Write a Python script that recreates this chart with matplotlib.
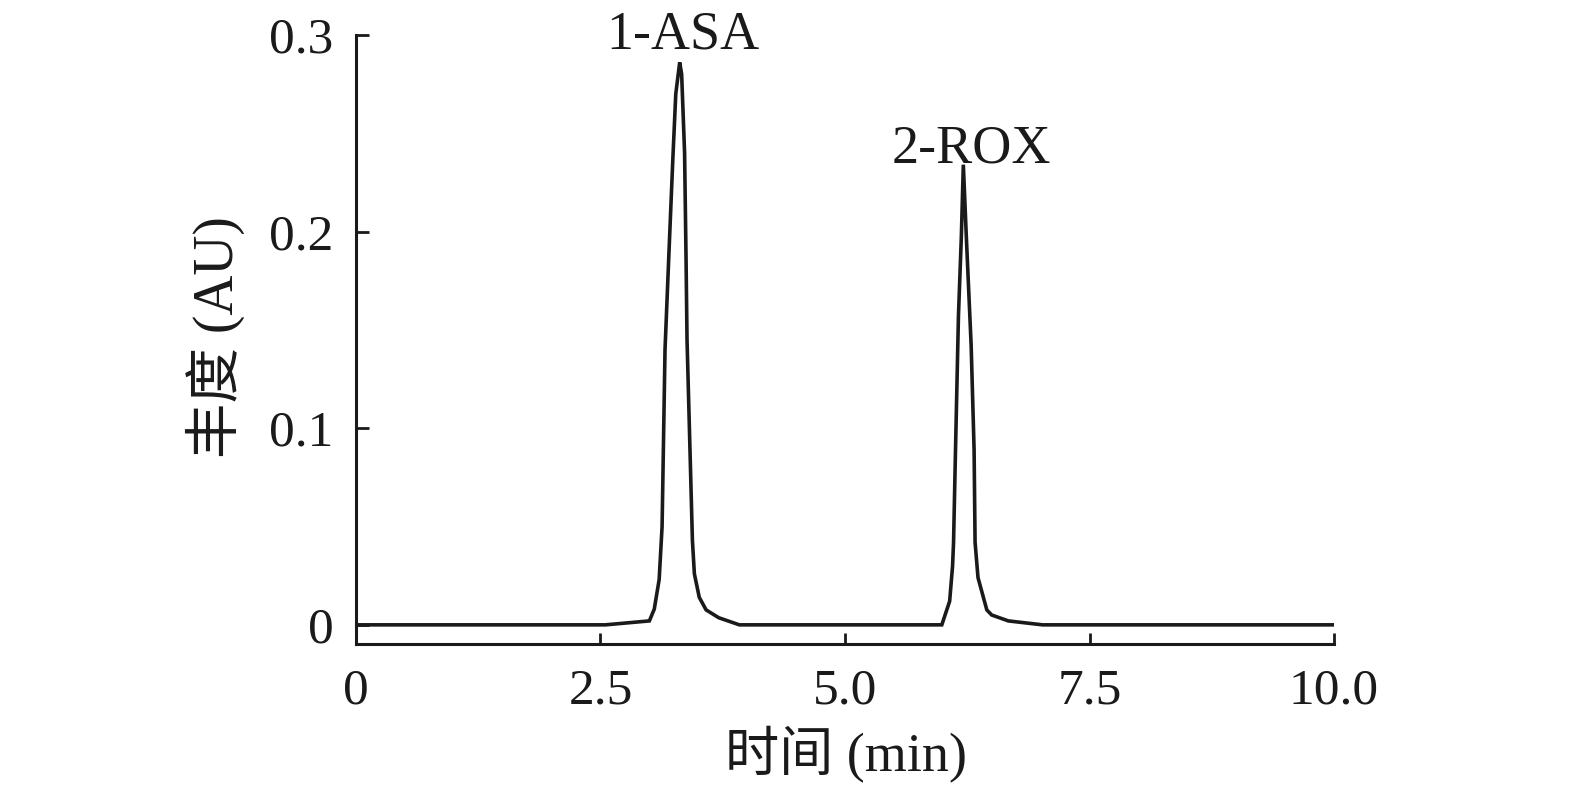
import matplotlib
matplotlib.use("Agg")
import matplotlib.pyplot as plt

# chromatogram trace (time in min, absorbance in AU)
time_min = [0.0, 2.55, 3.00, 3.05, 3.10, 3.13, 3.16, 3.20, 3.24, 3.27, 3.31,
            3.33, 3.36, 3.375, 3.385, 3.44, 3.46, 3.51, 3.58, 3.71, 3.92,
            5.99, 6.07, 6.10, 6.11, 6.13, 6.16, 6.19, 6.21, 6.24, 6.29, 6.32,
            6.33, 6.36, 6.45, 6.50, 6.67, 7.02, 10.0]
signal_au = [0.0, 0.0, 0.002, 0.008, 0.023, 0.05, 0.14, 0.189, 0.237, 0.27, 0.286,
             0.28, 0.24, 0.186, 0.145, 0.043, 0.026, 0.014, 0.0076, 0.0036, 0.0,
             0.0, 0.012, 0.03, 0.042, 0.089, 0.157, 0.198, 0.234, 0.198, 0.142, 0.089,
             0.042, 0.024, 0.0076, 0.005, 0.002, 0.0, 0.0]

peak_names = ["1-ASA", "2-ROX"]
peak_times = [3.34, 6.29]
peak_label_y = [0.293, 0.235]

x_ticks = [0, 2.5, 5.0, 7.5, 10.0]
x_tick_labels = ["0", "2.5", "5.0", "7.5", "10.0"]
y_ticks = [0, 0.1, 0.2, 0.3]
y_tick_labels = ["0", "0.1", "0.2", "0.3"]

FAM = ["Liberation Serif", "Noto Sans CJK SC"]
plt.rcParams["font.family"] = FAM

fig = plt.figure(figsize=(15.75, 7.93), dpi=100)
ax = fig.add_axes([0.226, 0.188, 0.621, 0.768])

ax.plot(time_min, signal_au, color="#1a1a1a", lw=2.6, solid_joinstyle="miter")

ax.set_xlim(0, 10.0)
ax.set_ylim(-0.0097, 0.3)
ax.set_xticks(x_ticks)
ax.set_xticklabels(x_tick_labels)
ax.set_yticks(y_ticks)
ax.set_yticklabels(y_tick_labels)

for s in ["top", "right"]:
    ax.spines[s].set_visible(False)
for s in ["left", "bottom"]:
    ax.spines[s].set_linewidth(2.2)
    ax.spines[s].set_color("#1a1a1a")
ax.spines["left"].set_bounds(-0.0097, 0.3)

ax.tick_params(axis="both", direction="in", width=2.0, color="#1a1a1a",
               labelsize=37, labelcolor="#1a1a1a")
ax.tick_params(axis="x", length=8, pad=17)
ax.tick_params(axis="y", length=9, pad=16)

for name, t, yy in zip(peak_names, peak_times, peak_label_y):
    ax.text(t, yy, name, ha="center", va="baseline", fontsize=39,
            color="#1a1a1a", clip_on=False)

fig.text(0.537, 0.048, "时间 (min)", ha="center", va="center", fontsize=39,
         color="#1a1a1a")
fig.text(0.137, 0.575, "丰度 (AU)", ha="center", va="center", fontsize=40,
         rotation=90, color="#1a1a1a")

fig.savefig("out.png", dpi=100)
